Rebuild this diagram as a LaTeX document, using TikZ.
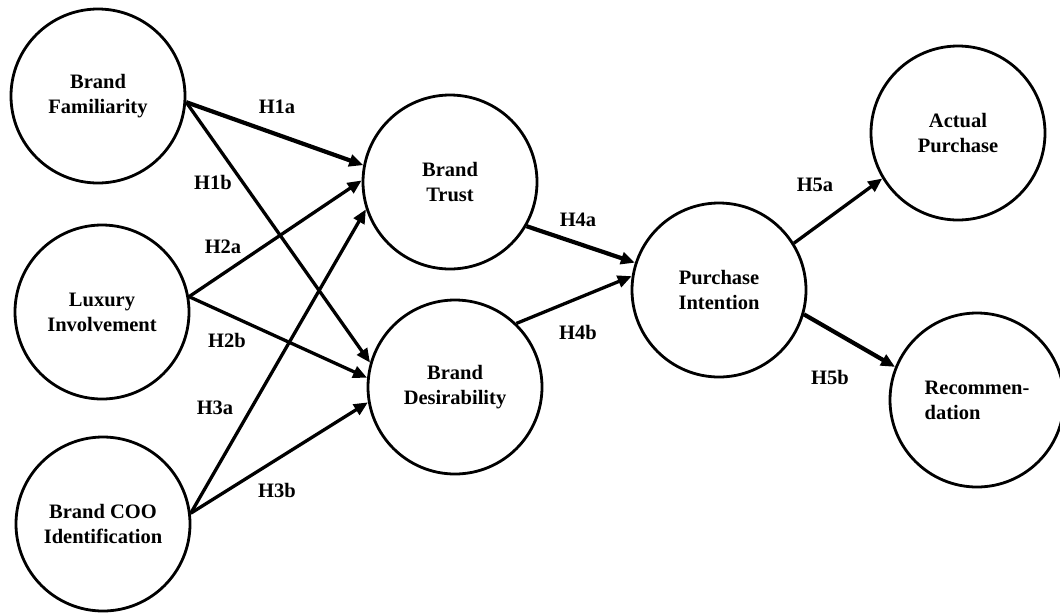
\documentclass[tikz,border=0pt]{standalone}
\usepackage{fontspec}
\setmainfont{Liberation Serif}
\usetikzlibrary{arrows.meta}
\begin{document}
\begin{tikzpicture}[x=1pt,y=-1pt,
  construct/.style={circle,draw,line width=2.8pt,minimum size=174pt,inner sep=0pt,
    font=\fontsize{20.5}{25}\selectfont\bfseries,align=center},
  link/.style={line width=3.3pt,-{Triangle[length=14pt,width=12pt]}},
  thick link/.style={link,line width=4.2pt},
  hyp/.style={font=\fontsize{20.5}{24}\selectfont\bfseries,inner sep=0pt}
]
\useasboundingbox (0,0) rectangle (1060,614);
\fill[white] (0,0) rectangle (1060,614);

\node[construct] (bf)  at (98,96)   {Brand\\Familiarity};
\node[construct] (li)  at (102,312) {Luxury\\Involvement};
\node[construct] (coo) at (103,524) {Brand COO\\Identification};
\node[construct] (bt)  at (450,182) {Brand\\Trust};
\node[construct] (bd)  at (455,387) {Brand\\Desirability};
\node[construct] (pi)  at (719,290) {Purchase\\Intention};
\node[construct] (ap)  at (958,133) {Actual\\Purchase};
\node[construct,align=left] (rec) at (977,400) {Recommen-\\dation};

\draw[thick link] (bf.-4) -- (bt.169);
\draw[link] (bf.-4) -- (bd.164);
\draw[link] (li.10) -- (bt.179);
\draw[link] (li.10) -- (bd.174);
\draw[link] (coo.7) -- (bt.-162);
\draw[link] (coo.7) -- (bd.-170);
\draw[thick link] (bt.-30) -- (pi.162);
\draw[link] (bd.46) -- (pi.171);
\draw[link] (pi.32) -- (ap.-149);
\draw[thick link] (pi.-16) -- (rec.158);

\node[hyp] (h1a) at (277,107) {H1a};
\node[hyp] (h1b) at (213,182) {H1b};
\node[hyp] (h2a) at (223,247) {H2a};
\node[hyp] (h2b) at (227,340) {H2b};
\node[hyp] (h3a) at (215,408) {H3a};
\node[hyp] (h3b) at (277,490) {H3b};
\node[hyp] (h4a) at (578,220) {H4a};
\node[hyp] (h4b) at (578,332) {H4b};
\node[hyp] (h5a) at (815,185) {H5a};
\node[hyp] (h5b) at (830,377) {H5b};
\end{tikzpicture}
\end{document}
